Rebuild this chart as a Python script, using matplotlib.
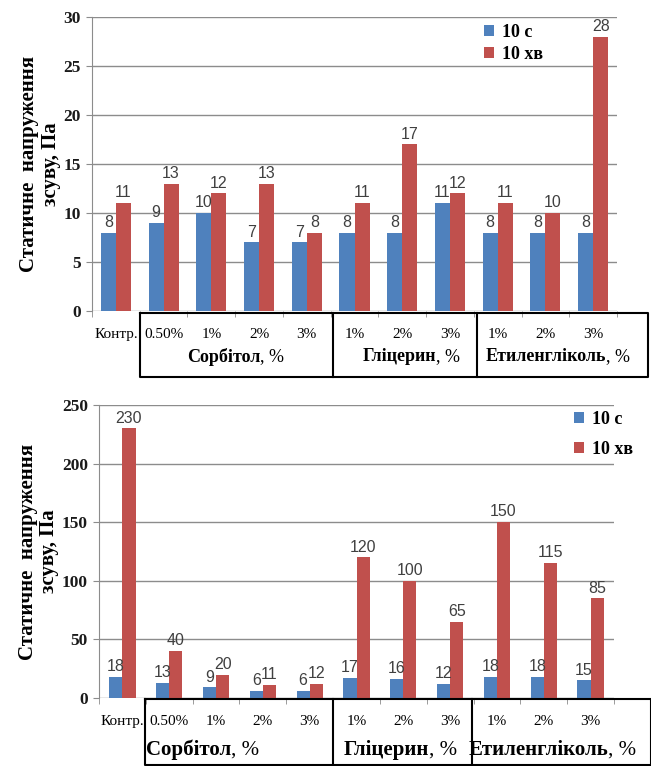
import matplotlib
matplotlib.use("Agg")
import matplotlib.pyplot as plt
import numpy as np
from matplotlib.lines import Line2D

# categories along the x axis (same for both panels)
cats = ["Контр.", "0.50%", "1%", "2%", "3%", "1%", "2%", "3%", "1%", "2%", "3%"]
series_names = ["10 с", "10 хв"]

# static shear stress, Pa - upper panel
top_10s = [8, 9, 10, 7, 7, 8, 8, 11, 8, 8, 8]
top_10min = [11, 13, 12, 13, 8, 11, 17, 12, 11, 10, 28]

# static shear stress, Pa - lower panel
bot_10s = [18, 13, 9, 6, 6, 17, 16, 12, 18, 18, 15]
bot_10min = [230, 40, 20, 11, 12, 120, 100, 65, 150, 115, 85]

groups = ["Сорбітол", "Гліцерин", "Етиленгліколь"]

BLUE = "#4f81bd"
RED = "#c0504d"
GRID = "#8c8c8c"
SERIF = "Liberation Serif"
SANS = "Liberation Sans"

W, H = 651, 766
fig = plt.figure(figsize=(W / 100, H / 100), dpi=100)


def px_axes(left, top, right, bottom):
    return fig.add_axes([left / W, 1 - bottom / H, (right - left) / W, (bottom - top) / H])


def draw_panel(ax, s1, s2, ymax, step, w):
    x = np.arange(len(cats))
    b1 = ax.bar(x - w / 2, s1, w, color=BLUE, label=series_names[0], zorder=3)
    b2 = ax.bar(x + w / 2, s2, w, color=RED, label=series_names[1], zorder=3)
    for b in (b1, b2):
        ax.bar_label(b, padding=2, fontsize=11.5, color="#404040", family=SANS)
    ax.set_xlim(-0.5, len(cats) - 0.5)
    ax.set_ylim(0, ymax)
    ax.set_yticks(np.arange(0, ymax + 1, step))
    ax.yaxis.grid(True, color=GRID, lw=1, zorder=0)
    for s in ("top", "right", "bottom"):
        ax.spines[s].set_visible(False)
    ax.spines["left"].set_color(GRID)
    ax.tick_params(axis="y", length=4, color=GRID, labelsize=12.5, pad=4)
    for t in ax.get_yticklabels():
        t.set_fontfamily(SERIF)
        t.set_fontweight("bold")
        t.set_color("#1a1a1a")
    ax.set_xticks(x, cats)
    ax.set_xticks(np.arange(len(cats) + 1) - 0.5, minor=True)
    ax.tick_params(axis="x", which="major", length=0, pad=12, labelsize=11)
    ax.tick_params(axis="x", which="minor", length=4, color=GRID)
    for t in ax.get_xticklabels():
        t.set_fontfamily(SERIF)
    ax.set_ylabel("Статичне  напруження\nзсуву, Па", fontsize=15, fontweight="bold",
                  family=SERIF, labelpad=2, linespacing=1.1)


def draw_box(top, bottom, left, div1, div2, right, label_y, centers, size):
    pts = [(left, top), (right, top), (right, bottom), (left, bottom), (left, top)]
    xs = [p[0] for p in pts]
    ys = [H - p[1] for p in pts]
    fig.add_artist(Line2D(xs, ys, color="black", lw=1.5, transform=None))
    for d in (div1, div2):
        fig.add_artist(Line2D([d, d], [H - top, H - bottom], color="black", lw=1.5, transform=None))
    for name, cx in zip(groups, centers):
        fig.text(cx / W, 1 - label_y / H, name, ha="right", va="center",
                 fontsize=size, fontweight="bold", family=SERIF)
        fig.text(cx / W, 1 - label_y / H, ", %", ha="left", va="center",
                 fontsize=size, family=SERIF)


leg_style = dict(loc="upper left", frameon=False, handlelength=0.55, handleheight=0.55,
                 handletextpad=0.45, borderaxespad=0, borderpad=0,
                 prop=dict(family=SERIF, weight="bold", size=13))

# upper panel
ax1 = px_axes(92, 17, 617, 311)
draw_panel(ax1, top_10s, top_10min, 30, 5, 0.315)
ax1.legend(bbox_to_anchor=((484 - 92) / 525, 1 - 7 / 294), labelspacing=0.25, **leg_style)
draw_box(313, 377, 140, 333, 477, 648, 357, [260, 436, 606], 13)

# lower panel
ax2 = px_axes(99, 405, 614, 698)
draw_panel(ax2, bot_10s, bot_10min, 250, 50, 0.28)
ax2.legend(bbox_to_anchor=((574 - 99) / 515, 1 - 6 / 293), labelspacing=0.7, **leg_style)
draw_box(699, 765, 145, 333, 472, 651, 750, [231, 429, 608], 15)

fig.savefig("out.png", dpi=100)
